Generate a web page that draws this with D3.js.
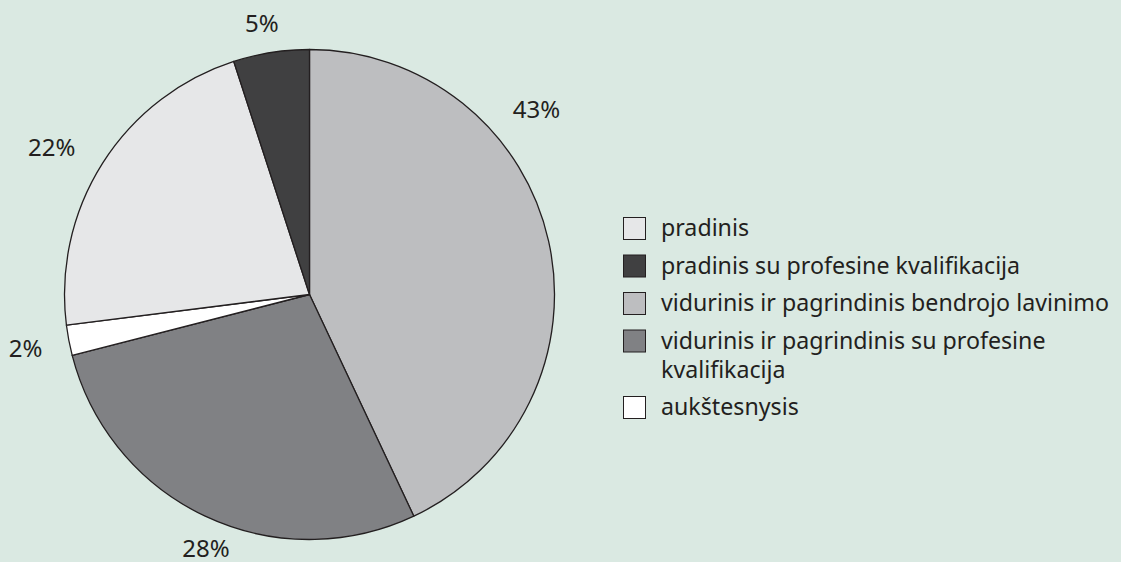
<!DOCTYPE html>
<html>
<head>
<meta charset="utf-8">
<script src="https://cdn.jsdelivr.net/npm/d3@7"></script>
<style>
  html, body { margin: 0; padding: 0; background: #dae9e2; }
  svg { display: block; }
</style>
</head>
<body>
<svg id="chart" width="1121" height="562"></svg>
<script>
// data, in drawing order clockwise from 12 o'clock
const slices = [
  "vidurinis ir pagrindinis bendrojo lavinimo",
  "vidurinis ir pagrindinis su profesine kvalifikacija",
  "aukštesnysis",
  "pradinis",
  "pradinis su profesine kvalifikacija"
]
const shares = [43, 28, 2, 22, 5]
const sliceColors = ["#bdbec0", "#808184", "#ffffff", "#e6e7e8", "#404041"]

// legend order differs from slice order
const legendOrder = [
  "pradinis",
  "pradinis su profesine kvalifikacija",
  "vidurinis ir pagrindinis bendrojo lavinimo",
  "vidurinis ir pagrindinis su profesine kvalifikacija",
  "aukštesnysis"
]
const legendLines = {
  "vidurinis ir pagrindinis su profesine kvalifikacija": ["vidurinis ir pagrindinis su profesine", "kvalifikacija"]
}

const svg = d3.select("#chart")
const cx = 309.5, cy = 294.5, radius = 245
const font = "'Noto Sans', 'Open Sans', sans-serif"

// label placement: nudge (deg) from slice middle and distance from centre
const labelNudge = [-26.6, -3, 0, -2.6, -1]
const labelRadius = [293, 274, 289, 297, 275]

const pie = d3.pie().sort(null).value(d => d.v)
const arcs = pie(slices.map((name, i) => ({ name: name, v: shares[i] })))
const color = d3.scaleOrdinal().domain(slices).range(sliceColors)

const arc = d3.arc().innerRadius(0).outerRadius(radius)

const g = svg.append("g").attr("transform", `translate(${cx},${cy})`)

g.selectAll("path")
  .data(arcs)
  .enter()
  .append("path")
  .attr("d", arc)
  .attr("fill", d => color(d.data.name))
  .attr("stroke", "#231f20")
  .attr("stroke-width", 1.3)
  .attr("stroke-linejoin", "round")

function labelPos(d) {
  let a = (d.startAngle + d.endAngle) / 2 + labelNudge[d.index] * Math.PI / 180
  let r = labelRadius[d.index]
  return [r * Math.sin(a), -r * Math.cos(a)]
}

g.selectAll(".lbl")
  .data(arcs)
  .enter()
  .append("text")
  .classed("lbl", true)
  .attr("x", d => labelPos(d)[0])
  .attr("y", d => labelPos(d)[1])
  .attr("dy", "0.36em")
  .attr("text-anchor", "middle")
  .attr("font-family", font)
  .attr("font-size", 24)
  .attr("fill", "#231f20")
  .text(d => d.data.v + "%")

// legend
const legend = svg.append("g").attr("transform", "translate(623,217)")
const rowGap = 37.5, lineGap = 29
let yOff = 0
legendOrder.forEach(name => {
  const row = legend.append("g").attr("transform", `translate(0,${yOff})`)
  row.append("rect")
    .attr("x", 0.5).attr("y", 0.5)
    .attr("width", 22).attr("height", 22)
    .attr("fill", color(name))
    .attr("stroke", "#231f20")
    .attr("stroke-width", 1)
  const lines = legendLines[name] || [name]
  const t = row.append("text")
    .attr("font-family", font)
    .attr("font-size", 23.2)
    .attr("fill", "#231f20")
  lines.forEach((ln, k) => {
    t.append("tspan").attr("x", 38).attr("y", 19 + k * lineGap).text(ln)
  })
  yOff += rowGap + (lines.length - 1) * lineGap
})
</script>
</body>
</html>
